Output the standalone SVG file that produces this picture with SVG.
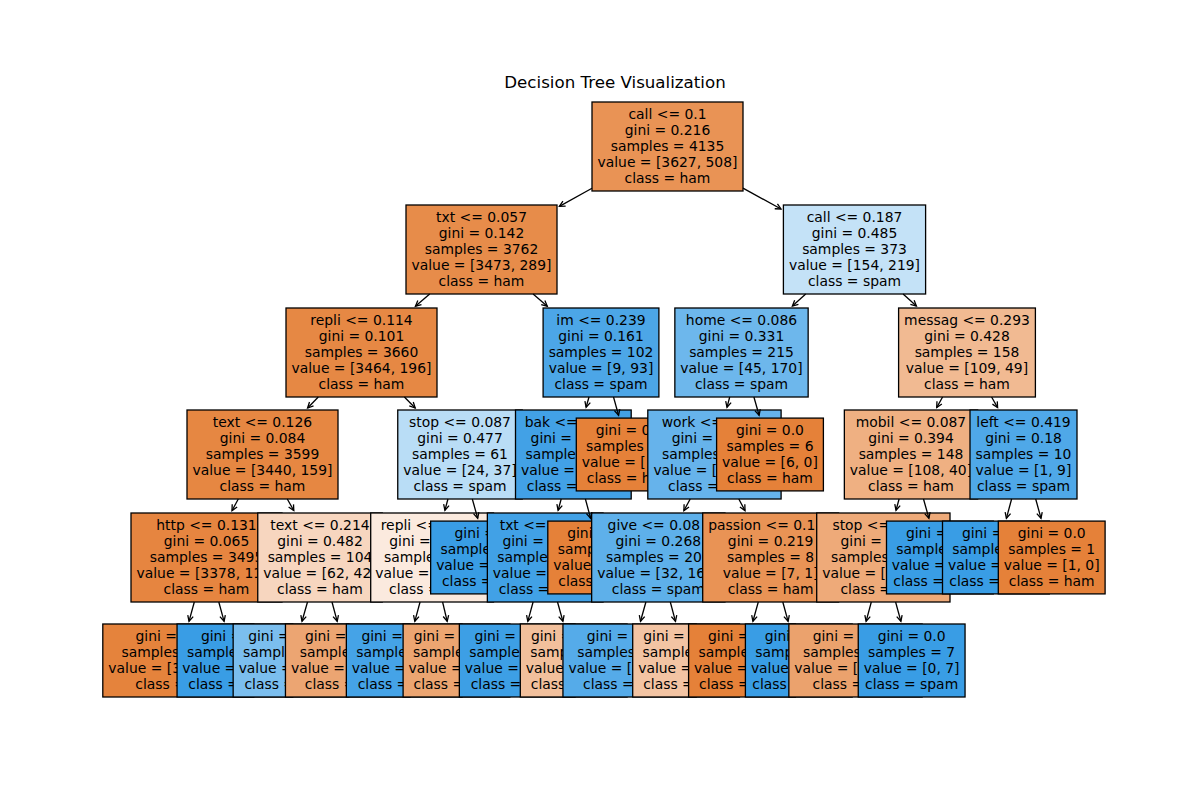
<svg xmlns="http://www.w3.org/2000/svg" width="1200" height="800" viewBox="0 0 1200 800">
<style>
text { font-family: "DejaVu Sans", "Liberation Sans", sans-serif; font-size: 13.9px; fill: #000; }
.m { text-anchor: middle; }
.t { font-size: 16.67px; text-anchor: middle; }
.b { stroke: #000; stroke-width: 1.3; }
.c line { stroke: #000; stroke-width: 1.3; fill: none; marker-end: url(#ah); }
</style>
<defs>
<marker id="ah" markerUnits="userSpaceOnUse" markerWidth="12" markerHeight="12" viewBox="-8 -6 12 12" refX="0" refY="0" orient="auto" overflow="visible">
<path d="M-5.6,-2.8 L0,0 L-5.6,2.8" fill="none" stroke="#000" stroke-width="1.3"/>
</marker>
</defs>
<rect width="1200" height="800" fill="#fff"/>
<text class="t" x="615" y="88">Decision Tree Visualization</text>

<!-- depth 5 leaves -->
<g id="L1"><rect class="b" x="102.8" y="624" width="151" height="73" fill="#e5833c"/>
<text x="135.5" y="640.6">gini =</text><text x="121.5" y="656.75">samples</text><text x="108.3" y="672.9">value = [3</text><text x="135.35" y="689.05">class =</text></g>
<g id="L2"><rect class="b" x="177.05" y="624" width="115.7" height="73" fill="#399de5"/>
<text x="200.9" y="640.6">gini =</text><text x="186.9" y="656.75">sample</text><text x="182.25" y="672.9">value =</text><text x="188.35" y="689.05">class =</text></g>
<g id="L3"><rect class="b" x="233.15" y="624" width="115.7" height="73" fill="#7bbeee"/>
<text x="248.2" y="640.6">gini =</text><text x="243" y="656.75">sampl</text><text x="238.65" y="672.9">value =</text><text x="244.45" y="689.05">class =</text></g>
<g id="L4"><rect class="b" x="285.45" y="624" width="124.5" height="73" fill="#eca572"/>
<text x="304.9" y="640.6">gini =</text><text x="299.7" y="656.75">sample</text><text x="290.95" y="672.9">value =</text><text x="304.75" y="689.05">class =</text></g>
<g id="L5"><rect class="b" x="346.35" y="624" width="115.7" height="73" fill="#45a3e7"/>
<text x="361.4" y="640.6">gini =</text><text x="356.2" y="656.75">sample</text><text x="351.85" y="672.9">value =</text><text x="357.65" y="689.05">class =</text></g>
<g id="L6"><rect class="b" x="403.1" y="624" width="106.8" height="73" fill="#eca571"/>
<text x="413.7" y="640.6">gini =</text><text x="412.95" y="656.75">sample</text><text x="408.6" y="672.9">value =</text><text x="413.55" y="689.05">class =</text></g>
<g id="L7"><rect class="b" x="459.35" y="624" width="115.7" height="73" fill="#3d9fe5"/>
<text x="474.4" y="640.6">gini =</text><text x="469.2" y="656.75">sample</text><text x="464.85" y="672.9">value =</text><text x="470.65" y="689.05">class =</text></g>
<g id="L8"><rect class="b" x="520.3" y="624" width="106.8" height="73" fill="#f2c09c"/>
<text x="530.9" y="640.6">gini =</text><text x="530.15" y="656.75">samp</text><text x="525.8" y="672.9">value</text><text x="530.75" y="689.05">class</text></g>
<g id="L9"><rect class="b" x="562.95" y="624" width="133.3" height="73" fill="#55abe9"/>
<text x="586.8" y="640.6">gini =</text><text x="577.2" y="656.75">samples</text><text x="568.45" y="672.9">value = [</text><text x="583.05" y="689.05">class =</text></g>
<g id="L10"><rect class="b" x="632.7" y="624" width="106.8" height="73" fill="#f3c4a3"/>
<text x="643.3" y="640.6">gini =</text><text x="642.55" y="656.75">sample</text><text x="638.2" y="672.9">value =</text><text x="643.15" y="689.05">class =</text></g>
<g id="L11"><rect class="b" x="688.6" y="624" width="106.8" height="73" fill="#e58139"/>
<text x="708" y="640.6">gini =</text><text x="698.45" y="656.75">sample</text><text x="694.1" y="672.9">value =</text><text x="699.05" y="689.05">class =</text></g>
<g id="L12"><rect class="b" x="745.4" y="624" width="106.8" height="73" fill="#399de5"/>
<text x="764.8" y="640.6">gini</text><text x="755.25" y="656.75">samp</text><text x="750.9" y="672.9">value</text><text x="752.25" y="689.05">class</text></g>
<g id="L13"><rect class="b" x="788.85" y="624" width="133.3" height="73" fill="#eba26d"/>
<text x="812.7" y="640.6">gini =</text><text x="803.1" y="656.75">samples</text><text x="794.35" y="672.9">value = [</text><text x="812.55" y="689.05">class =</text></g>
<g id="L14"><rect class="b" x="858.25" y="624" width="106.8" height="73" fill="#399de5"/>
<text class="m" x="911.65" y="640.6">gini = 0.0</text><text class="m" x="911.65" y="656.75">samples = 7</text><text class="m" x="911.65" y="672.9">value = [0, 7]</text><text class="m" x="911.65" y="689.05">class = spam</text></g>

<!-- depth 4 -->
<g id="N15"><rect class="b" x="131" y="513" width="151" height="89" fill="#e68540"/>
<text class="m" x="206.5" y="529.5">http &lt;= 0.131</text><text class="m" x="206.5" y="545.65">gini = 0.065</text><text class="m" x="206.5" y="561.8">samples = 3495</text><text x="136.5" y="577.95">value = [3378, 11</text><text class="m" x="206.5" y="594.1">class = ham</text></g>
<g id="N16"><rect class="b" x="257.75" y="513" width="124.5" height="89" fill="#f7d6bf"/>
<text class="m" x="320" y="529.5">text &lt;= 0.214</text><text class="m" x="320" y="545.65">gini = 0.482</text><text class="m" x="320" y="561.8">samples = 104</text><text x="263.25" y="577.95">value = [62, 42</text><text class="m" x="320" y="594.1">class = ham</text></g>
<g id="N17"><rect class="b" x="370.7" y="513" width="122.8" height="89" fill="#fbeade"/>
<text x="380.7" y="529.5">repli &lt;=</text><text x="389.3" y="545.65">gini =</text><text x="384.1" y="561.8">sample</text><text x="375.3" y="577.95">value =</text><text x="389.1" y="594.1">class =</text></g>
<g id="N18"><rect class="b" x="430.65" y="521.1" width="115.7" height="72.8" fill="#399de5"/>
<text x="454.5" y="537.6">gini =</text><text x="440.5" y="553.75">sample</text><text x="436.15" y="569.9">value =</text><text x="441.95" y="586.05">class =</text></g>
<g id="N19"><rect class="b" x="487.35" y="513" width="115.7" height="89" fill="#41a1e6"/>
<text x="499.7" y="529.5">txt &lt;=</text><text x="502.4" y="545.65">gini =</text><text x="497.2" y="561.8">sample</text><text x="492.85" y="577.95">value =</text><text x="498.65" y="594.1">class =</text></g>
<g id="N20"><rect class="b" x="547.8" y="521.1" width="106.8" height="72.8" fill="#e58139"/>
<text x="567.2" y="537.6">gini</text><text x="557.65" y="553.75">samp</text><text x="553.3" y="569.9">value</text><text x="558.25" y="586.05">class</text></g>
<g id="N21"><rect class="b" x="591.65" y="513" width="133.3" height="89" fill="#5eb0ea"/>
<text x="607.6" y="529.5">give &lt;= 0.08</text><text class="m" x="658.3" y="545.65">gini = 0.268</text><text class="m" x="658.3" y="561.8">samples = 201</text><text class="m" x="658.3" y="577.95">value = [32, 169]</text><text class="m" x="658.3" y="594.1">class = spam</text></g>
<g id="N22"><rect class="b" x="702.7" y="513" width="135.9" height="89" fill="#e99355"/>
<text x="708.2" y="529.5">passion &lt;= 0.1</text><text class="m" x="770.65" y="545.65">gini = 0.219</text><text class="m" x="770.65" y="561.8">samples = 8</text><text class="m" x="770.65" y="577.95">value = [7, 1]</text><text class="m" x="770.65" y="594.1">class = ham</text></g>
<g id="N23"><rect class="b" x="816.7" y="513" width="133.3" height="89" fill="#eeaa79"/>
<text x="832.4" y="529.5">stop &lt;=</text><text x="840.55" y="545.65">gini =</text><text x="830.95" y="561.8">samples</text><text x="822.2" y="577.95">value = [</text><text x="840.4" y="594.1">class =</text></g>
<g id="N24"><rect class="b" x="886.5" y="521.1" width="106.8" height="72.8" fill="#399de5"/>
<text x="905.9" y="537.6">gini =</text><text x="896.35" y="553.75">sample</text><text x="891.7" y="569.9">value =</text><text x="893.35" y="586.05">class =</text></g>
<g id="N25"><rect class="b" x="942.5" y="521.1" width="106.8" height="72.8" fill="#399de5"/>
<text x="961.9" y="537.6">gini =</text><text x="952.35" y="553.75">sample</text><text x="948" y="569.9">value =</text><text x="949.35" y="586.05">class =</text></g>
<g id="N26"><rect class="b" x="998.3" y="521.1" width="106.8" height="72.8" fill="#e58139"/>
<text class="m" x="1051.7" y="537.6">gini = 0.0</text><text class="m" x="1051.7" y="553.75">samples = 1</text><text class="m" x="1051.7" y="569.9">value = [1, 0]</text><text class="m" x="1051.7" y="586.05">class = ham</text></g>

<!-- depth 3 -->
<g id="N7"><rect class="b" x="187" y="410" width="151" height="89" fill="#e68742"/>
<text class="m" x="262.5" y="426.5">text &lt;= 0.126</text><text class="m" x="262.5" y="442.65">gini = 0.084</text><text class="m" x="262.5" y="458.8">samples = 3599</text><text class="m" x="262.5" y="474.95">value = [3440, 159]</text><text class="m" x="262.5" y="491.1">class = ham</text></g>
<g id="N8"><rect class="b" x="397.75" y="410" width="124.5" height="89" fill="#b9ddf6"/>
<text class="m" x="460" y="426.5">stop &lt;= 0.087</text><text class="m" x="460" y="442.65">gini = 0.477</text><text class="m" x="460" y="458.8">samples = 61</text><text class="m" x="460" y="474.95">value = [24, 37]</text><text class="m" x="460" y="491.1">class = spam</text></g>
<g id="N9"><rect class="b" x="515.5" y="410" width="115.7" height="89" fill="#42a1e6"/>
<text x="524.7" y="426.5">bak &lt;=</text><text x="530.6" y="442.65">gini =</text><text x="525.4" y="458.8">sample</text><text x="521" y="474.95">value =</text><text x="526.85" y="491.1">class =</text></g>
<g id="N10"><rect class="b" x="576.3" y="418.1" width="106.8" height="72.8" fill="#e58139"/>
<text x="595.7" y="434.6">gini = 0</text><text x="586.1" y="450.75">samples</text><text x="581.8" y="466.9">value = [</text><text x="586.8" y="483.05">class = h</text></g>
<g id="N11"><rect class="b" x="647.8" y="410" width="133.3" height="89" fill="#66b3eb"/>
<text x="661.7" y="426.5">work &lt;=</text><text x="671.7" y="442.65">gini =</text><text x="662.1" y="458.8">samples</text><text x="653.4" y="474.95">value = [</text><text x="668" y="491.1">class =</text></g>
<g id="N12"><rect class="b" x="716.6" y="418.1" width="106.8" height="72.8" fill="#e58139"/>
<text class="m" x="770" y="434.6">gini = 0.0</text><text class="m" x="770" y="450.75">samples = 6</text><text class="m" x="770" y="466.9">value = [6, 0]</text><text class="m" x="770" y="483.05">class = ham</text></g>
<g id="N13"><rect class="b" x="844.35" y="410" width="133.3" height="89" fill="#efb082"/>
<text class="m" x="911" y="426.5">mobil &lt;= 0.087</text><text class="m" x="911" y="442.65">gini = 0.394</text><text class="m" x="911" y="458.8">samples = 148</text><text class="m" x="911" y="474.95">value = [108, 40]</text><text class="m" x="911" y="491.1">class = ham</text></g>
<g id="N14"><rect class="b" x="970" y="410" width="107" height="89" fill="#4fa8e8"/>
<text class="m" x="1023.5" y="426.5">left &lt;= 0.419</text><text class="m" x="1023.5" y="442.65">gini = 0.18</text><text class="m" x="1023.5" y="458.8">samples = 10</text><text class="m" x="1023.5" y="474.95">value = [1, 9]</text><text class="m" x="1023.5" y="491.1">class = spam</text></g>

<!-- depth 2 -->
<g id="N3"><rect class="b" x="286" y="308" width="151" height="89" fill="#e68844"/>
<text class="m" x="361.5" y="324.5">repli &lt;= 0.114</text><text class="m" x="361.5" y="340.65">gini = 0.101</text><text class="m" x="361.5" y="356.8">samples = 3660</text><text class="m" x="361.5" y="372.95">value = [3464, 196]</text><text class="m" x="361.5" y="389.1">class = ham</text></g>
<g id="N4"><rect class="b" x="543.1" y="308" width="115.8" height="89" fill="#4ca6e7"/>
<text class="m" x="601" y="324.5">im &lt;= 0.239</text><text class="m" x="601" y="340.65">gini = 0.161</text><text class="m" x="601" y="356.8">samples = 102</text><text class="m" x="601" y="372.95">value = [9, 93]</text><text class="m" x="601" y="389.1">class = spam</text></g>
<g id="N5"><rect class="b" x="674.85" y="308" width="133.3" height="89" fill="#6db7ec"/>
<text class="m" x="741.5" y="324.5">home &lt;= 0.086</text><text class="m" x="741.5" y="340.65">gini = 0.331</text><text class="m" x="741.5" y="356.8">samples = 215</text><text class="m" x="741.5" y="372.95">value = [45, 170]</text><text class="m" x="741.5" y="389.1">class = spam</text></g>
<g id="N6"><rect class="b" x="898.6" y="308" width="136.8" height="89" fill="#f1ba92"/>
<text class="m" x="967" y="324.5">messag &lt;= 0.293</text><text class="m" x="967" y="340.65">gini = 0.428</text><text class="m" x="967" y="356.8">samples = 158</text><text class="m" x="967" y="372.95">value = [109, 49]</text><text class="m" x="967" y="389.1">class = ham</text></g>

<!-- depth 1 -->
<g id="N1"><rect class="b" x="406" y="205" width="151" height="89" fill="#e78c4a"/>
<text class="m" x="481.5" y="221.5">txt &lt;= 0.057</text><text class="m" x="481.5" y="237.65">gini = 0.142</text><text class="m" x="481.5" y="253.8">samples = 3762</text><text class="m" x="481.5" y="269.95">value = [3473, 289]</text><text class="m" x="481.5" y="286.1">class = ham</text></g>
<g id="N2"><rect class="b" x="783.4" y="205" width="142.2" height="89" fill="#c4e2f7"/>
<text class="m" x="854.5" y="221.5">call &lt;= 0.187</text><text class="m" x="854.5" y="237.65">gini = 0.485</text><text class="m" x="854.5" y="253.8">samples = 373</text><text class="m" x="854.5" y="269.95">value = [154, 219]</text><text class="m" x="854.5" y="286.1">class = spam</text></g>

<!-- depth 0 -->
<g id="N0"><rect class="b" x="592" y="102" width="151" height="89" fill="#e99355"/>
<text class="m" x="667.5" y="118.5">call &lt;= 0.1</text><text class="m" x="667.5" y="134.65">gini = 0.216</text><text class="m" x="667.5" y="150.8">samples = 4135</text><text class="m" x="667.5" y="166.95">value = [3627, 508]</text><text class="m" x="667.5" y="183.1">class = ham</text></g>

<g id="connectors" class="c">
<line x1="592" y1="188.3" x2="559.4" y2="206.4"/>
<line x1="743" y1="188.1" x2="781" y2="209"/>
<line x1="429.7" y1="294" x2="415.4" y2="306.2"/>
<line x1="533.1" y1="294" x2="547.3" y2="306.2"/>
<line x1="805.7" y1="294" x2="792.4" y2="306.1"/>
<line x1="903.1" y1="294" x2="916.4" y2="306.1"/>
<line x1="318.3" y1="397" x2="307.6" y2="408"/>
<line x1="404.4" y1="397" x2="415.2" y2="408"/>
<line x1="589" y1="397" x2="586.1" y2="407.3"/>
<line x1="613.5" y1="397" x2="618.6" y2="415.3"/>
<line x1="729.7" y1="397" x2="727" y2="407.3"/>
<line x1="753.9" y1="397" x2="759.1" y2="415.3"/>
<line x1="942.6" y1="397" x2="936.7" y2="407.6"/>
<line x1="991.6" y1="397" x2="997.6" y2="407.6"/>
<line x1="238.3" y1="499" x2="232" y2="510.6"/>
<line x1="287.3" y1="499" x2="293.8" y2="510.6"/>
<line x1="447.95" y1="499" x2="444.9" y2="510.3"/>
<line x1="472.3" y1="499" x2="477.7" y2="518.3"/>
<line x1="561.2" y1="499" x2="558.1" y2="510.3"/>
<line x1="585.4" y1="499" x2="590.6" y2="518.3"/>
<line x1="690.2" y1="499" x2="683.9" y2="510.6"/>
<line x1="738.8" y1="499" x2="745" y2="510.6"/>
<line x1="899.1" y1="499" x2="896" y2="510.3"/>
<line x1="923.5" y1="499" x2="928.9" y2="518.3"/>
<line x1="1011.6" y1="499" x2="1006.4" y2="518.3"/>
<line x1="1035.7" y1="499" x2="1041" y2="518.3"/>
<line x1="194.3" y1="602" x2="189" y2="621.3"/>
<line x1="218.8" y1="602" x2="224.1" y2="621.3"/>
<line x1="307.5" y1="602" x2="302" y2="621.3"/>
<line x1="332" y1="602" x2="337.2" y2="621.3"/>
<line x1="420.05" y1="602" x2="414.8" y2="621.3"/>
<line x1="442.6" y1="602" x2="447.2" y2="621.3"/>
<line x1="533.1" y1="602" x2="527.8" y2="621.3"/>
<line x1="557.5" y1="602" x2="562.9" y2="621.3"/>
<line x1="645.9" y1="602" x2="640.5" y2="621.3"/>
<line x1="670.3" y1="602" x2="675.5" y2="621.3"/>
<line x1="758.3" y1="602" x2="752.9" y2="621.3"/>
<line x1="782.8" y1="602" x2="788.1" y2="621.3"/>
<line x1="871.3" y1="602" x2="866.1" y2="621.3"/>
<line x1="895.6" y1="602" x2="900.9" y2="621.3"/>
</g>
</svg>
